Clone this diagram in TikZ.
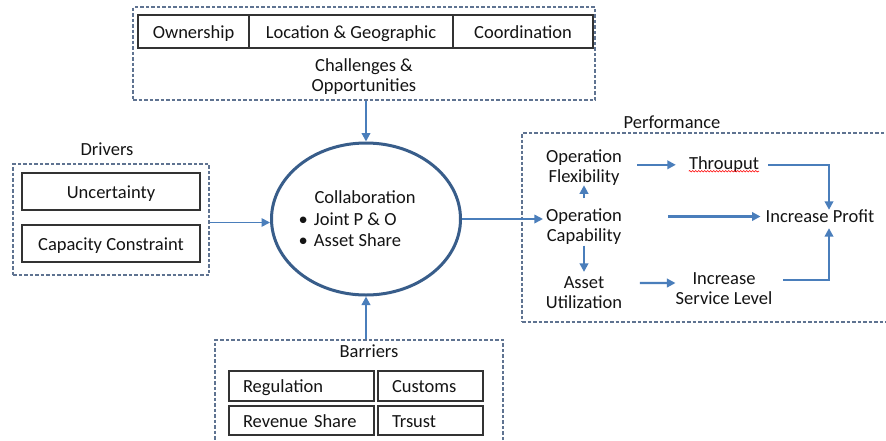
\documentclass[tikz,border=0pt]{standalone}
\usepackage{fontspec}
\setmainfont{Carlito}
\usetikzlibrary{arrows.meta,shapes.geometric,decorations.pathmorphing}
\definecolor{dashc}{HTML}{5F7391}
\definecolor{arrc}{HTML}{4A7EBB}
\definecolor{circc}{HTML}{385D8A}
\definecolor{boxc}{HTML}{333333}
\begin{document}
\begin{tikzpicture}[x=1pt,y=-1pt,
  every node/.style={font=\fontsize{18.5}{20}\selectfont, inner sep=0pt, text=black!92},
  dbox/.style={draw=dashc, line width=1.1pt, dash pattern=on 3.5pt off 2pt},
  ibox/.style={draw=boxc, line width=1.5pt, text height=13pt, text depth=0pt},
  lbox/.style={ibox, inner xsep=14pt, align=left},
  arr/.style={-{Triangle[length=8.5pt,width=8.5pt]}, draw=arrc, line width=2.2pt},
  thinarr/.style={arr, line width=1.7pt},
  txt/.style={align=center}]
\fill[white] (0,0) rectangle (886,440);
\useasboundingbox (0,0) rectangle (886,440);

% Challenges & Opportunities
\node[dbox, minimum width=462pt, minimum height=93pt] (top) at (364,53.5) {};
\node[ibox, minimum width=111pt, minimum height=33pt] (own) at (193.5,31.5) {Ownership};
\node[ibox, minimum width=204pt, minimum height=33pt] (loc) at (351,31.5) {Location \& Geographic};
\node[ibox, minimum width=140pt, minimum height=33pt] (coo) at (523,31.5) {Coordination};
\node[txt] (chal) at (364,76.8) {Challenges \&\\Opportunities};

% Drivers
\node (drvl) at (107,149.5) {Drivers};
\node[dbox, minimum width=196pt, minimum height=111pt] (drv) at (111,219.5) {};
\node[ibox, minimum width=178pt, minimum height=37pt] (unc) at (111,191.5) {Uncertainty};
\node[ibox, minimum width=178pt, minimum height=37pt] (capc) at (111,243.5) {Capacity Constraint};

% Collaboration
\node[ellipse, draw=circc, line width=3pt, minimum width=189pt, minimum height=152pt] (circ) at (366,219) {};
\node (coll) at (365,197.5) {Collaboration};
\node[anchor=west] (b1) at (298.5,219) {•\hspace{6pt}Joint P \& O};
\node[anchor=west] (b2) at (298.5,240) {•\hspace{6pt}Asset Share};

% Barriers
\node[dbox, minimum width=288pt, minimum height=120pt] (bot) at (359,400) {};
\node (barl) at (369,351.5) {Barriers};
\node[lbox, text width=117pt, minimum height=30pt] (reg) at (301.5,386) {Regulation};
\node[lbox, text width=77pt, minimum height=30pt] (cus) at (430.5,386) {Customs};
\node[lbox, text width=117pt, minimum height=29pt] (rev) at (301.5,420.5) {Revenue Share};
\node[lbox, text width=77pt, minimum height=29pt] (tru) at (430.5,420.5) {Trsust};

% Performance
\node (perfl) at (672,122.5) {Performance};
\node[dbox, minimum width=378pt, minimum height=189pt] (perf) at (711,227.5) {};
\node[txt] (flex) at (584,167.2) {Operation\\Flexibility};
\node[txt] (opcap) at (584,226.2) {Operation\\Capability};
\node[txt] (asset) at (584,293.1) {Asset\\Utilization};
\node (thr) at (724,164.8) {Throuput};
\node (profit) at (820,216.5) {Increase Profit};
\node[txt] (isl) at (724,289) {Increase\\Service Level};
\draw[red, line width=0.6pt, decorate, decoration={snake, amplitude=0.8pt, segment length=3pt}]
  ([yshift=-1.5pt]thr.base west) -- ([yshift=-1.5pt]thr.base east);

% connectors
\draw[arr] (top.south -| circ.north) -- (circ.north);
\draw[arr] (bot.north -| circ.south) -- (circ.south);
\coordinate (dA) at ([yshift=-3pt]drv.east);
\draw[thinarr] (dA) -- (dA -| circ.west);
\draw[thinarr, shorten >=3pt] (circ.east) -- (circ.east -| opcap.west);
\draw[arr, shorten <=15pt, shorten >=13pt] (thr.west -| flex.east) -- (thr.west);
\draw[arr, shorten <=9pt] (thr.east) -| ([xshift=9pt]profit.north);
\draw[arr, shorten <=46pt, shorten >=5pt] (profit.west -| opcap.east) -- (profit.west);
\draw[arr, shorten <=9.7pt] (opcap.north) -- (flex.south);
\draw[arr, shorten <=1.4pt, shorten >=5pt] (opcap.south) -- (asset.north);
\draw[arr, shorten <=17.5pt] ([yshift=10pt]asset.east) -- ([yshift=6pt]isl.west);
\draw[arr, shorten <=10.6pt, shorten >=5pt] ([yshift=9pt]isl.east) -| ([xshift=9pt]profit.south);
\end{tikzpicture}
\end{document}
